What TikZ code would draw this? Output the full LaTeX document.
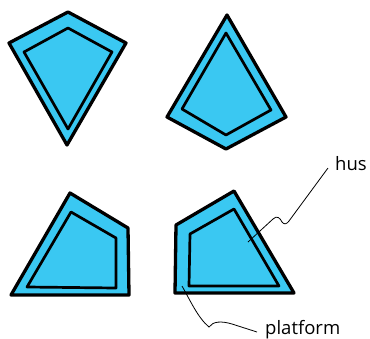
\documentclass[tikz,border=0pt]{standalone}
\usepackage{fontspec}
\setmainfont{Open Sans}
\usetikzlibrary{calc}
\definecolor{plat}{RGB}{58,200,242}
\tikzset{
  outer/.style={draw=black,fill=plat,line width=3.3pt,line join=round},
  inner/.style={draw=black,line width=2.7pt,line join=round},
  leader/.style={draw=black,line width=0.8pt},
  lbl/.style={font=\fontsize{18.5}{20}\selectfont,inner sep=0pt,anchor=base west}
}
\begin{document}
\begin{tikzpicture}[x=1pt,y=-1pt]
\useasboundingbox (0,0) rectangle (370,338);
% shape 1
\draw[outer] (68,12) -- (126,43) -- (67,145) -- (9,43) -- cycle;
\draw[inner] (68,28) -- (112,52) -- (68,129) -- (24,52) -- cycle;
% shape 2
\draw[outer] (227,15) -- (286,117) -- (226,149) -- (167,117) -- cycle;
\draw[inner] (226,33) -- (271,110) -- (226,135) -- (182,109) -- cycle;
% shape 3
\draw[outer] (70,193) -- (128,228) -- (129,295) -- (11,295) -- cycle;
\draw[inner] (71,212) -- (116,238) -- (116,288) -- (27,287) -- cycle;
% shape 4
\draw[outer] (234,191) -- (176,225) -- (175,293) -- (294,293) -- cycle;
\draw[inner] (234,209) -- (190,234) -- (189,286) -- (279,286) -- cycle;
% labels
\node[lbl] (hus) at (335,170) {hus};
\node[lbl] (platform) at (265,334) {platform};
\coordinate (husEnd) at (248,242);
\coordinate (platEnd) at (182,286);
\draw[leader] (husEnd) -- (273,219) .. controls (277,215) and (280,218) .. (282,222)
  .. controls (284,225) and (287,224) .. (289,221) -- ($(hus.base west)+(-7,-2)$);
\draw[leader] (platEnd) .. controls (190,300) and (198,318) .. (209,327)
  .. controls (213,321) and (222,321) .. (232,324) -- ($(platform.base west)+(-8,-2)$);
\end{tikzpicture}
\end{document}
